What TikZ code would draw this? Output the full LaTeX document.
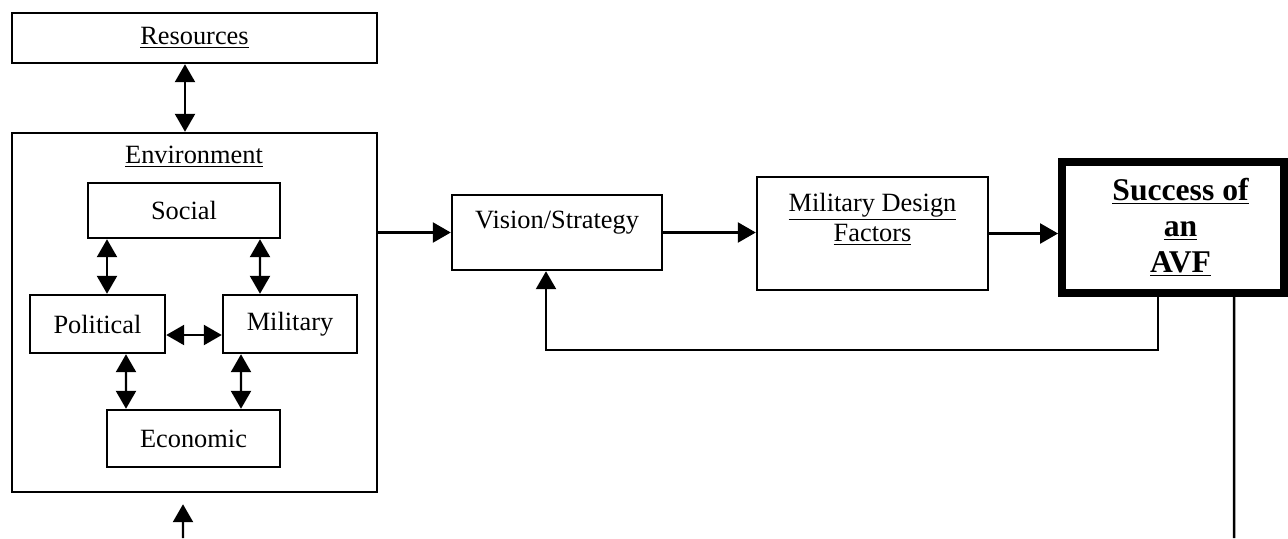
\documentclass[tikz,border=0pt]{standalone}
\usepackage{fontspec}
\setmainfont{Liberation Serif}
\usetikzlibrary{arrows.meta,positioning,calc}

\begin{document}
\begin{tikzpicture}[
    >={Triangle[length=0.36cm,width=0.4cm]},
    box/.style={rectangle, draw, line width=1.4pt, align=center, inner sep=2pt},
    arrow/.style={->, line width=1.4pt},
    biarrow/.style={<->, line width=1.4pt},
    line/.style={line width=1.4pt},
    every node/.style={font=\fontsize{15}{17}\selectfont}
]
\useasboundingbox (0,0) rectangle (25.76,-10.76);

% Left: Resources and Environment
\node[box, minimum width=7.3cm, minimum height=1cm] (res) at (3.89,-0.76) {\underline{Resources}};
\node[box, minimum width=7.3cm, minimum height=7.18cm] (env) at (3.89,-6.25) {};
\node (envlabel) at (3.88,-3.14) {\underline{Environment}};

% Factors inside the environment
\node[box, minimum width=3.84cm, minimum height=1.1cm] (social) at (3.68,-4.21) {Social};
\node[box, minimum width=2.7cm, minimum height=1.16cm] (political) at (1.95,-6.48) {Political};
\node[box, minimum width=2.68cm, minimum height=1.16cm] (military) at (5.8,-6.48) {Military};
\node[box, minimum width=3.46cm, minimum height=1.14cm] (economic) at (3.87,-8.77) {Economic};

% Middle: Vision and design factors
\node[box, minimum width=4.2cm, minimum height=1.5cm, text depth=0.5cm] (vision) at (11.14,-4.65) {Vision/Strategy};
\node[box, minimum width=4.62cm, minimum height=2.26cm] (design) at (17.45,-4.67) {};
\node[below=0.22cm of design.north, align=center] (designlabel) {\underline{Military Design}\\\underline{Factors}};

% Right: outcome box
\node[box, line width=4.5pt, minimum width=4.44cm, minimum height=2.62cm, font=\fontsize{18}{20.5}\selectfont\bfseries] (success) at (23.46,-4.55) {\hspace*{0.3cm}\underline{Success of}\\\hspace*{0.3cm}\underline{an}\\\hspace*{0.3cm}\underline{AVF}};

% Arrows between the factors
\draw[biarrow] ([xshift=-0.19cm]res.south) -- ([xshift=-0.19cm]env.north);
\draw[biarrow] ([xshift=-1.54cm]social.south) -- ([xshift=0.19cm]political.north);
\draw[biarrow] ([xshift=1.52cm]social.south) -- ([xshift=-0.6cm]military.north);
\draw[biarrow] ([yshift=-0.22cm]political.east) -- ([yshift=-0.22cm]military.west);
\draw[biarrow] ([xshift=0.57cm]political.south) -- ([xshift=-1.35cm]economic.north);
\draw[biarrow] ([xshift=-0.98cm]military.south) -- ([xshift=0.95cm]economic.north);

% Input from below
\coordinate (envin) at (3.66,-10.76);
\draw[arrow] (envin) -- ([xshift=-0.23cm,yshift=-0.22cm]env.south);

% Main chain
\draw[arrow] (env.east |- vision.west) -- (vision.west);
\draw[arrow] (vision.east) -- (vision.east -| design.west);
\draw[arrow] (design.east) -- (design.east -| success.west);

% Feedback loop and output line
\draw[arrow] ([xshift=-0.3cm]success.south) -- ++(0,-1.06) -| ([xshift=-0.22cm]vision.south);
\coordinate (out) at (24.68,-10.76);
\draw[line] ([xshift=1.22cm]success.south) -- (out);

\end{tikzpicture}
\end{document}
